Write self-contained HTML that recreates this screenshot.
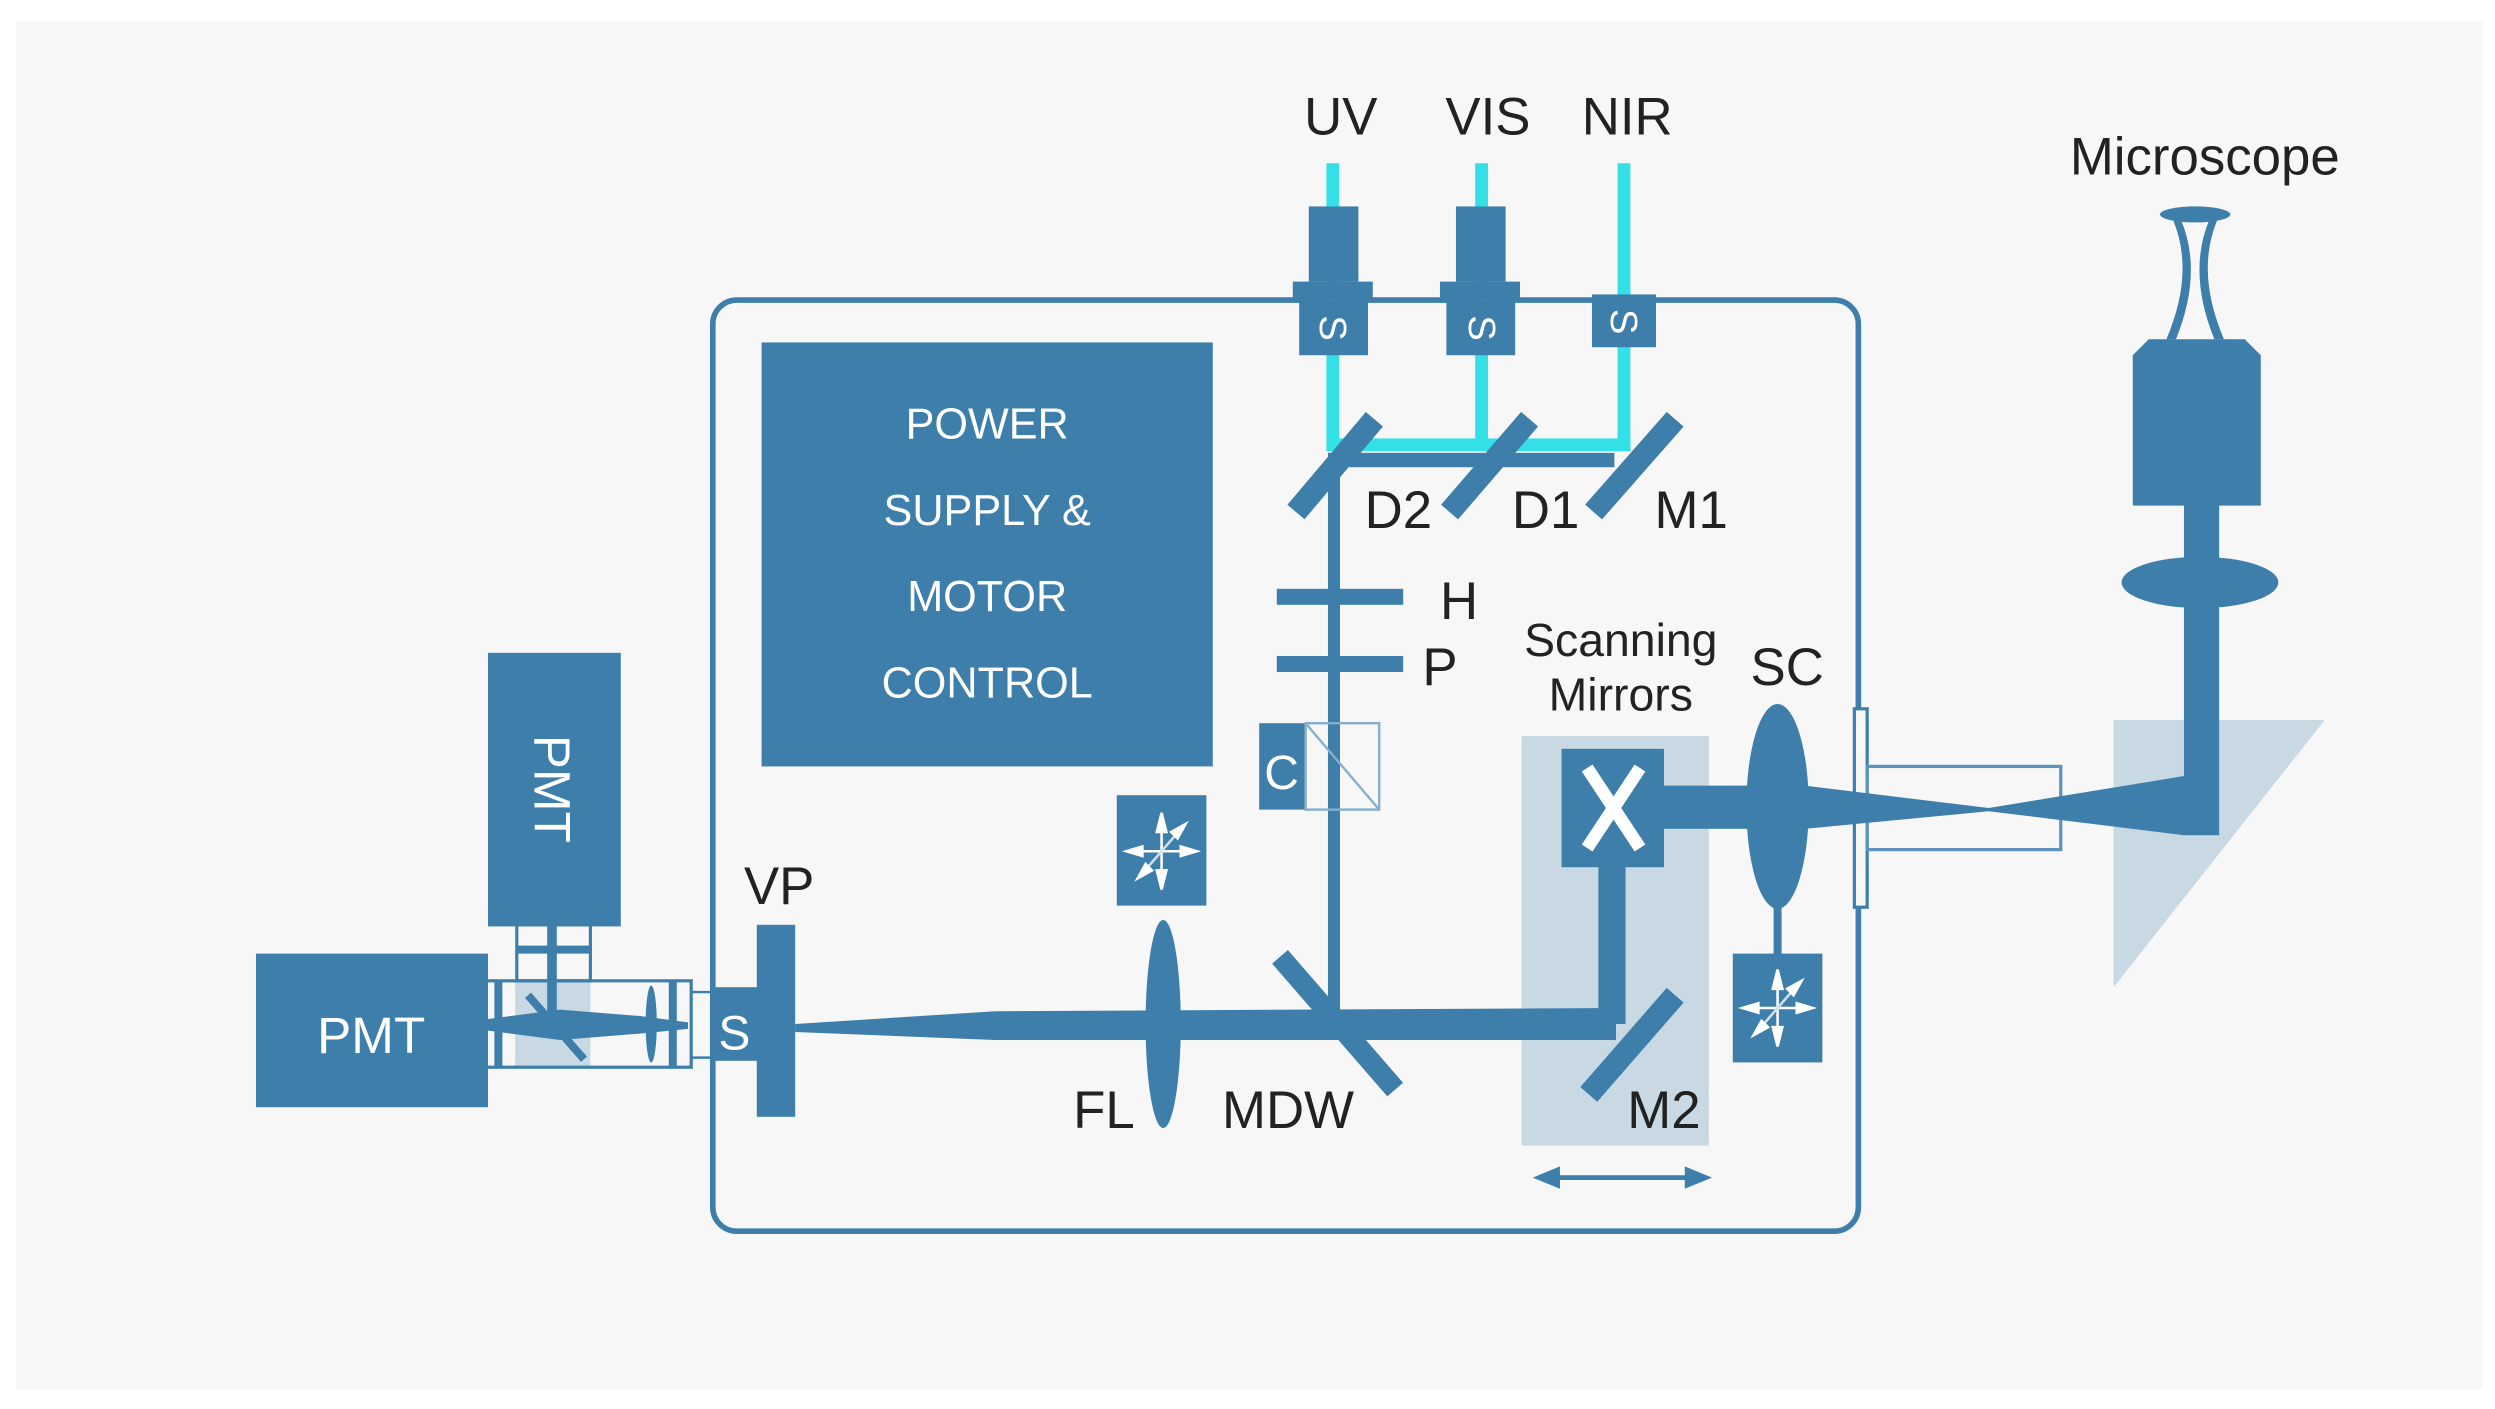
<!DOCTYPE html>
<html><head><meta charset="utf-8"><style>
html,body{margin:0;padding:0;background:#fff;}
svg{display:block;}
text{font-family:"Liberation Sans",sans-serif;}
</style></head><body>
<svg width="2495" height="1409" viewBox="0 0 1559.4 880.6" xmlns="http://www.w3.org/2000/svg">
<defs>
<g id="star">
 <g stroke="#fff" stroke-width="1.6" fill="#fff">
  <line x1="-20" y1="0" x2="20" y2="0"/>
  <line x1="0" y1="-22" x2="0" y2="22"/>
  <line x1="-13" y1="15" x2="13" y2="-15" stroke="#cfe0ec"/>
  <polygon points="-22,0 -12,-3 -12,3"/>
  <polygon points="22,0 12,-3 12,3"/>
  <polygon points="0,-24 -3,-12 3,-12"/>
  <polygon points="0,24 -3,12 3,12"/>
  <polygon points="15,-17 6,-12 10,-8"/>
  <polygon points="-15,17 -6,12 -10,8"/>
 </g>
</g>
</defs>
<rect x="0" y="0" width="1559.4" height="880.6" fill="#fff"/>
<rect x="10" y="13" width="1542" height="855" fill="#f7f7f7"/>

<g fill="#3d7eaa" stroke="none">
<!-- light areas -->
<rect x="951" y="460" width="117" height="256" fill="#c9d9e4"/>
<polygon points="1321,450 1453,450 1321,617" fill="#c9d9e4"/>

<!-- main box -->
<rect x="445.5" y="187.5" width="716" height="582" rx="15" fill="none" stroke="#3d7eaa" stroke-width="3.5"/>

<!-- power supply -->
<rect x="476" y="214" width="282" height="265"/>

<!-- PMTs -->
<rect x="305" y="408" width="83" height="171"/>
<rect x="160" y="596" width="145" height="96"/>

<!-- PMT connector details -->
<rect x="322" y="612" width="47" height="55" fill="#c9d9e4"/>
<rect x="304" y="613" width="128" height="54" fill="none" stroke="#3d7eaa" stroke-width="2"/>
<rect x="323" y="578" width="46" height="35" fill="none" stroke="#3d7eaa" stroke-width="2"/>
<rect x="323" y="591" width="46" height="5"/>
<rect x="342" y="578" width="6" height="60"/>
<rect x="309" y="613" width="5" height="54"/>
<rect x="418" y="613" width="5" height="54"/>
<polygon points="304,637 350,631 400,635 430,639 430,643 400,646 350,650 304,644"/>
<line x1="330" y1="622" x2="365" y2="662" stroke="#3d7eaa" stroke-width="5"/>
<ellipse cx="407" cy="640" rx="3.5" ry="24"/>
<line x1="432" y1="620" x2="444" y2="620" stroke="#3d7eaa" stroke-width="1.5"/>
<line x1="432" y1="661" x2="444" y2="661" stroke="#3d7eaa" stroke-width="1.5"/>

<!-- S box and VP -->
<rect x="444" y="617" width="30" height="46"/>
<rect x="473" y="578" width="24" height="120"/>

<!-- main beam -->
<polygon points="497,640 622,632 1010,630 1010,650 622,650 497,645"/>

<!-- FL lens -->
<ellipse cx="727" cy="640" rx="11" ry="65"/>
<!-- star boxes -->
<rect x="698" y="497" width="56" height="69"/>
<use href="#star" x="726" y="532"/>
<rect x="1083" y="596" width="56" height="68"/>
<use href="#star" x="1111" y="630"/>

<!-- MDW -->
<line x1="800" y1="598" x2="872" y2="681" stroke="#3d7eaa" stroke-width="13"/>
<!-- vertical beam -->
<rect x="830" y="283" width="7.5" height="357"/>

<!-- H, P -->
<rect x="798" y="368" width="79" height="10"/>
<rect x="798" y="410" width="79" height="10"/>
<!-- C -->
<rect x="787" y="452" width="29" height="54"/>
<rect x="816" y="452" width="46" height="54" fill="none" stroke="#86afcb" stroke-width="1.5"/>
<line x1="816" y1="452" x2="862" y2="506" stroke="#86afcb" stroke-width="1.5"/>

<!-- cyan lines -->
<g fill="#33e0e8">
<rect x="829" y="102" width="8" height="180"/>
<rect x="922" y="102" width="8" height="180"/>
<rect x="1011" y="102" width="8" height="180"/>
<rect x="833" y="274" width="186" height="8"/>
</g>
<rect x="833" y="283" width="176" height="9"/>

<!-- source modules -->
<rect x="818" y="129" width="31" height="47"/>
<rect x="808" y="176" width="50" height="11"/>
<rect x="812" y="187" width="43" height="35"/>
<rect x="910" y="129" width="31" height="47"/>
<rect x="900" y="176" width="50" height="11"/>
<rect x="904" y="187" width="43" height="35"/>
<rect x="995" y="184" width="40" height="33"/>

<!-- D2 D1 M1 -->
<line x1="810" y1="320" x2="859" y2="262" stroke="#3d7eaa" stroke-width="14"/>
<line x1="906" y1="320" x2="956" y2="262" stroke="#3d7eaa" stroke-width="14"/>
<line x1="996" y1="320" x2="1047" y2="262" stroke="#3d7eaa" stroke-width="14"/>

<!-- scanning mirrors -->
<rect x="976" y="468" width="64" height="74"/>
<rect x="999" y="540" width="17" height="100"/>
<line x1="993" y1="684" x2="1047" y2="622" stroke="#3d7eaa" stroke-width="14"/>
<rect x="1040" y="491" width="70" height="27"/>
<ellipse cx="1111" cy="504" rx="19.5" ry="64"/>
<rect x="1108.5" y="565" width="5" height="32"/>

<!-- double arrow -->
<line x1="970" y1="736" x2="1058" y2="736" stroke="#3d7eaa" stroke-width="3"/>
<polygon points="958,736 975,729 975,743"/>
<polygon points="1070,736 1053,729 1053,743"/>

<!-- port and tube -->
<rect x="1159" y="443" width="8" height="124" fill="#f7f7f7" stroke="#3d7eaa" stroke-width="2"/>
<rect x="1167" y="479" width="121" height="52" fill="none" stroke="#5b93ba" stroke-width="2"/>
<polygon points="1128,491 1243,505 1365,485 1365,522 1243,507 1128,518"/>

<!-- microscope -->
<rect x="1365" y="300" width="22" height="222"/>
<ellipse cx="1375" cy="364" rx="49" ry="16"/>
<polygon points="1343,212 1403,212 1413,222 1413,316 1333,316 1333,222"/>
<ellipse cx="1372" cy="134" rx="22" ry="5"/>
<path d="M1358,137 Q1372,170 1354,212 L1360,212 Q1377,170 1363,137 Z"/>
<path d="M1386,137 Q1372,170 1390,212 L1384,212 Q1367,170 1381,137 Z"/>
</g>

<!-- white text inside boxes -->
<g fill="#fff" font-size="27" text-anchor="middle">
<text x="617" y="274">POWER</text>
<text x="617" y="328">SUPPLY &amp;</text>
<text x="617" y="382">MOTOR</text>
<text x="617" y="436">CONTROL</text>
<text x="232" y="658" font-size="32">PMT</text>
<text x="0" y="0" font-size="32" transform="translate(334,493) rotate(90)">PMT</text>
<text x="459" y="656" font-size="30">S</text>
<text x="801" y="493" font-size="30">C</text>
</g>
<!-- rotated S glyphs in source modules -->
<g fill="#fff" font-size="24" text-anchor="middle">
<text transform="translate(833,205) rotate(90)" y="8">S</text>
<text transform="translate(926,205) rotate(90)" y="8">S</text>
<text transform="translate(1015,201) rotate(90)" y="8">S</text>
</g>
<!-- X -->
<g stroke="#fff" stroke-width="8">
<line x1="992" y1="480" x2="1025" y2="530"/>
<line x1="1025" y1="480" x2="992" y2="530"/>
</g>

<!-- labels -->
<g fill="#222" font-size="33" text-anchor="middle">
<text x="838" y="84">UV</text>
<text x="930" y="84">VIS</text>
<text x="1017" y="84">NIR</text>
<text x="1378" y="109">Microscope</text>
<text x="874" y="330">D2</text>
<text x="966" y="330">D1</text>
<text x="1057" y="330">M1</text>
<text x="900" y="387" text-anchor="start" x2="0">H</text>
<text x="900" y="428">P</text>
<text x="1013" y="410" font-size="29">Scanning</text>
<text x="1013" y="444" font-size="29">Mirrors</text>
<text x="1117" y="428">SC</text>
<text x="487" y="565">VP</text>
<text x="690" y="705">FL</text>
<text x="805" y="705">MDW</text>
<text x="1040" y="705">M2</text>
</g>
</svg>
</body></html>
